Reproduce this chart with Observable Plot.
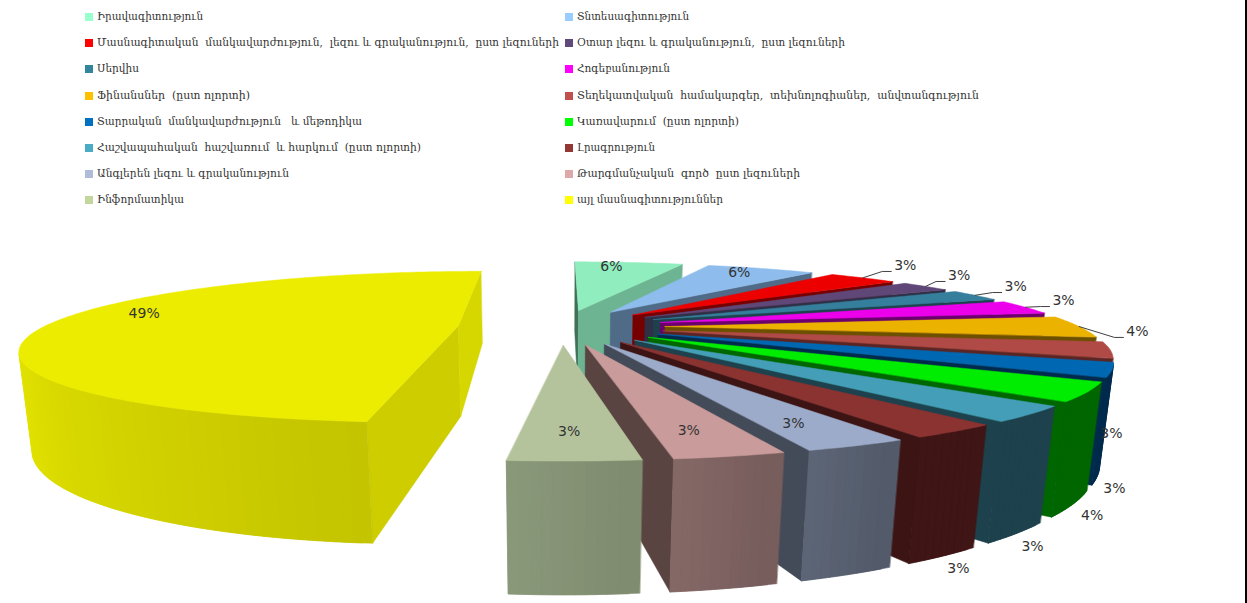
<!DOCTYPE html>
<html>
<head>
<meta charset="utf-8">
<script src="https://cdn.jsdelivr.net/npm/d3@7"></script>
<script src="https://cdn.jsdelivr.net/npm/@observablehq/plot@0.6"></script>
<style>
  html, body { margin: 0; padding: 0; background: #fff; overflow: hidden; }
  #legend { position: relative; height: 240px; width: 1247px; }
  .item { position: absolute; white-space: pre; font: 11px "DejaVu Serif", "DejaVu Sans", serif; color: #333; line-height: 14px; transform-origin: 0 50%; }
  .sw { position: absolute; width: 8px; height: 8px; }
  svg { display: block; }
  #edge { position: fixed; right: 0; top: 0; bottom: 0; width: 2px; background: #000; }
</style>
</head>
<body>
<div id="legend"></div>
<div id="chart"></div>
<div id="edge"></div>
<script>
// ---- data ----
const categories = [
  "Իրավագիտություն", "Տնտեսագիտություն",
  "Մասնագիտական  մանկավարժություն,  լեզու և գրականություն,  ըստ լեզուների", "Օտար լեզու և գրականություն,  ըստ լեզուների",
  "Սերվիս", "Հոգեբանություն",
  "Ֆինանսներ  (ըստ ոլորտի)", "Տեղեկատվական  համակարգեր,  տեխնոլոգիաներ,  անվտանգություն",
  "Տարրական  մանկավարժություն   և մեթոդիկա", "Կառավարում  (ըստ ոլորտի)",
  "Հաշվապահական  հաշվառում  և հարկում  (ըստ ոլորտի)", "Լրագրություն",
  "Անգլերեն լեզու և գրականություն", "Թարգմանչական  գործ  ըստ լեզուների",
  "Ինֆորմատիկա", "այլ մասնագիտություններ"
];
// slice sizes as read from the drawn sectors
const shares = [5.6, 5.55, 3.44, 2.44, 2.58, 3.11, 4.58, 3.25, 2.78, 3.53, 2.86, 2.56, 2.81, 2.94, 3.42, 48.55];
// percentages as printed on the chart
const printed = [6, 6, 3, 3, 3, 3, 4, 3, 3, 4, 3, 3, 3, 3, 3, 49];

// ---- colours ----
const legendColors = ["#99FFCC","#99CCFF","#FF0000","#604A7B","#31859C","#FF00FF","#FFC000","#C0504D","#0070C0","#00FF00","#4BACC6","#953735","#AEBBD9","#DDA9A8","#C3D69B","#FFFF00"];
const topColors    = ["#90EEBE","#8EBCEC","#EC0000","#5F4777","#357F9C","#EC00EC","#ECB200","#B04A47","#0068B2","#00EC00","#459EB8","#8A3331","#9CABC9","#C99B9A","#B5C39C","#ECEC00"];
const endSide      = ["#6DB592","#506B88","#760000","#2F2F45","#1E424D","#6C006C","#6C5000","#5A2625","#002B4C","#006600","#1E424D","#3D1414","#434B59","#5A4442","#5A6150","#D6D600"];
const startSide    = ["#3F7058","#506B88","#760000","#2F2F45","#1E424D","#6C006C","#6C5000","#5A2625","#002B4C","#006600","#1E424D","#3D1414","#434B59","#5A4442","#5A6150","#CDCD00"];
const wallFrom     = ["#6DB592","#506B88","#760000","#2F2F45","#1E424D","#6C006C","#6C5000","#5A2625","#002B4C","#006600","#1E424D","#3F1515","#525A69","#775C5C","#7F8B6E","#C4C400"];
const wallTo       = ["#6DB592","#506B88","#760000","#2F2F45","#1E424D","#6C006C","#6C5000","#5A2625","#002B4C","#006600","#1E424D","#3F1515","#5E6778","#866A68","#8C9A7C","#ECEC00"];

// ---- legend text run lengths ----
const legendWidths = [106,112,462,268,42,93,153,402,265,162,324,78,192,223,87,146];

// ---- label placement on the pie plane: distance from pie centre, bearing clockwise from the back ----
const labelReach   = [1.139,1.126,1.593,1.515,1.472,1.415,1.366,1.418,1.621,1.702,1.778,1.823,1.077,1.071,1.056,1.081];
const labelBearing = [8.0,29.1,43.6,52.8,62.5,73.0,92.9,139.0,150.0,154.6,160.1,164.5,158.0,168.3,179.3,280.4];
const hasLeader    = [0,0,1,1,1,1,1,0,0,0,0,0,0,0,0,0];

// ---- 3D pie view ----
const pxPerUnit = 414;
const explode = 0.25, perspective = 0.28, tilt = 70 / pxPerUnit, thick = 93 / pxPerUnit, nadir = 0.0225;
const project = (u, v, h) => {
  const w = 1 + perspective * v + nadir * h;
  return [u / w, (tilt * v - thick * h) / w];
};
const total = d3.sum(shares);
const rad = d => d * Math.PI / 180;
let cum = 0;
const slices = shares.map((s, i) => {
  const a0 = cum / total * 360; cum += s;
  const a1 = cum / total * 360;
  const mid = rad((a0 + a1) / 2);
  return {i, a0, a1, ox: explode * Math.sin(mid), oy: explode * Math.cos(mid)};
});
const onSlice = (s, deg, r, h) => project(s.ox + r * Math.sin(rad(deg)), s.oy + r * Math.cos(rad(deg)), h);

const polys = [];
let pid = 0;
const add = (pts, color) => { const id = pid++; pts.forEach(p => polys.push({x: p[0], y: p[1], id, color})); };
// d3.polygonArea is negative for a counter-clockwise ring in y-up coordinates
const facing = pts => d3.polygonArea(pts) < 0;

for (const s of slices) {
  const outer = (d, h) => onSlice(s, d, 1, h), apex = h => onSlice(s, 0, 0, h);
  const sq = [apex(0), outer(s.a0, 0), outer(s.a0, 1), apex(1)];
  if (facing(sq)) add(sq, startSide[s.i]);
  const eq = [outer(s.a1, 0), apex(0), apex(1), outer(s.a1, 1)];
  if (facing(eq)) add(eq, endSide[s.i]);
  const steps = Math.max(4, Math.round(s.a1 - s.a0));
  const ramp = d3.interpolateRgb(wallFrom[s.i], wallTo[s.i]);
  const ease = s.i === 15 ? 0.46 : 1;
  // each wall strip runs one step over the next one, so that no seams show
  for (let k = steps - 1; k >= 0; k--) {
    const d0 = s.a0 + (s.a1 - s.a0) * k / steps;
    const d1 = s.a0 + (s.a1 - s.a0) * Math.min(steps, k + 2) / steps;
    const q = [outer(d0, 0), outer(d1, 0), outer(d1, 1), outer(d0, 1)];
    if (facing(q)) add(q, d3.rgb(ramp(Math.min(1, (k + .5) / steps / ease))).formatHex());
  }
  const top = [apex(0)];
  for (let k = 0; k <= steps; k++) top.push(outer(s.a0 + (s.a1 - s.a0) * k / steps, 0));
  add(top, topColors[s.i]);
}

const labelPoint = i => {
  const b = rad(labelBearing[i]);
  return project(labelReach[i] * Math.sin(b), labelReach[i] * Math.cos(b), 0);
};
const labels = printed.map((p, i) => {
  const [x, y] = labelPoint(i);
  return {x, y, text: p + "%"};
});
const leaders = [];
slices.filter(s => hasLeader[s.i]).forEach(s => {
  const [lx, ly] = labelPoint(s.i);
  const start = onSlice(s, (s.a0 + s.a1) / 2, 1, 0);
  const ex = lx - 14 / pxPerUnit, ey = ly - 6 / pxPerUnit;
  [start, [ex - 9 / pxPerUnit, ey], [ex, ey]].forEach(p => leaders.push({x: p[0], y: p[1], id: s.i}));
});

// ---- legend ----
const legend = document.getElementById("legend");
categories.forEach((c, i) => {
  const row = Math.floor(i / 2), col = i % 2;
  const cy = 17 + row * 26.2;
  const sw = document.createElement("div");
  sw.className = "sw";
  sw.style.cssText = `left:${col ? 565 : 85}px;top:${cy - 4}px;background:${legendColors[i]}`;
  const t = document.createElement("div");
  t.className = "item";
  t.textContent = c;
  t.style.left = `${col ? 577 : 97}px`;
  t.style.top = `${cy - 7}px`;
  legend.append(sw, t);
  t.style.transform = `scaleX(${legendWidths[i] / t.getBoundingClientRect().width})`;
});

// ---- chart ----
const chart = Plot.plot({
  width: 1247, height: 363,
  marginTop: 0, marginBottom: 0, marginLeft: 0, marginRight: 0,
  x: {domain: [-561 / pxPerUnit, 686 / pxPerUnit], range: [0, 1247], axis: null},
  y: {domain: [86 / pxPerUnit, -277 / pxPerUnit], range: [0, 363], axis: null},
  color: {type: "identity"},
  style: {background: "#fff", overflow: "hidden"},
  marks: [
    Plot.line(polys, {x: "x", y: "y", z: "id", fill: "color", stroke: "color", strokeWidth: 0.5, curve: "linear-closed"}),
    Plot.line(leaders, {x: "x", y: "y", z: "id", stroke: "#404040", strokeWidth: 1}),
    Plot.text(labels, {x: "x", y: "y", text: "text", fill: "#333", fontSize: 14, fontFamily: "DejaVu Sans"})
  ]
});
document.getElementById("chart").append(chart);
</script>
</body>
</html>
